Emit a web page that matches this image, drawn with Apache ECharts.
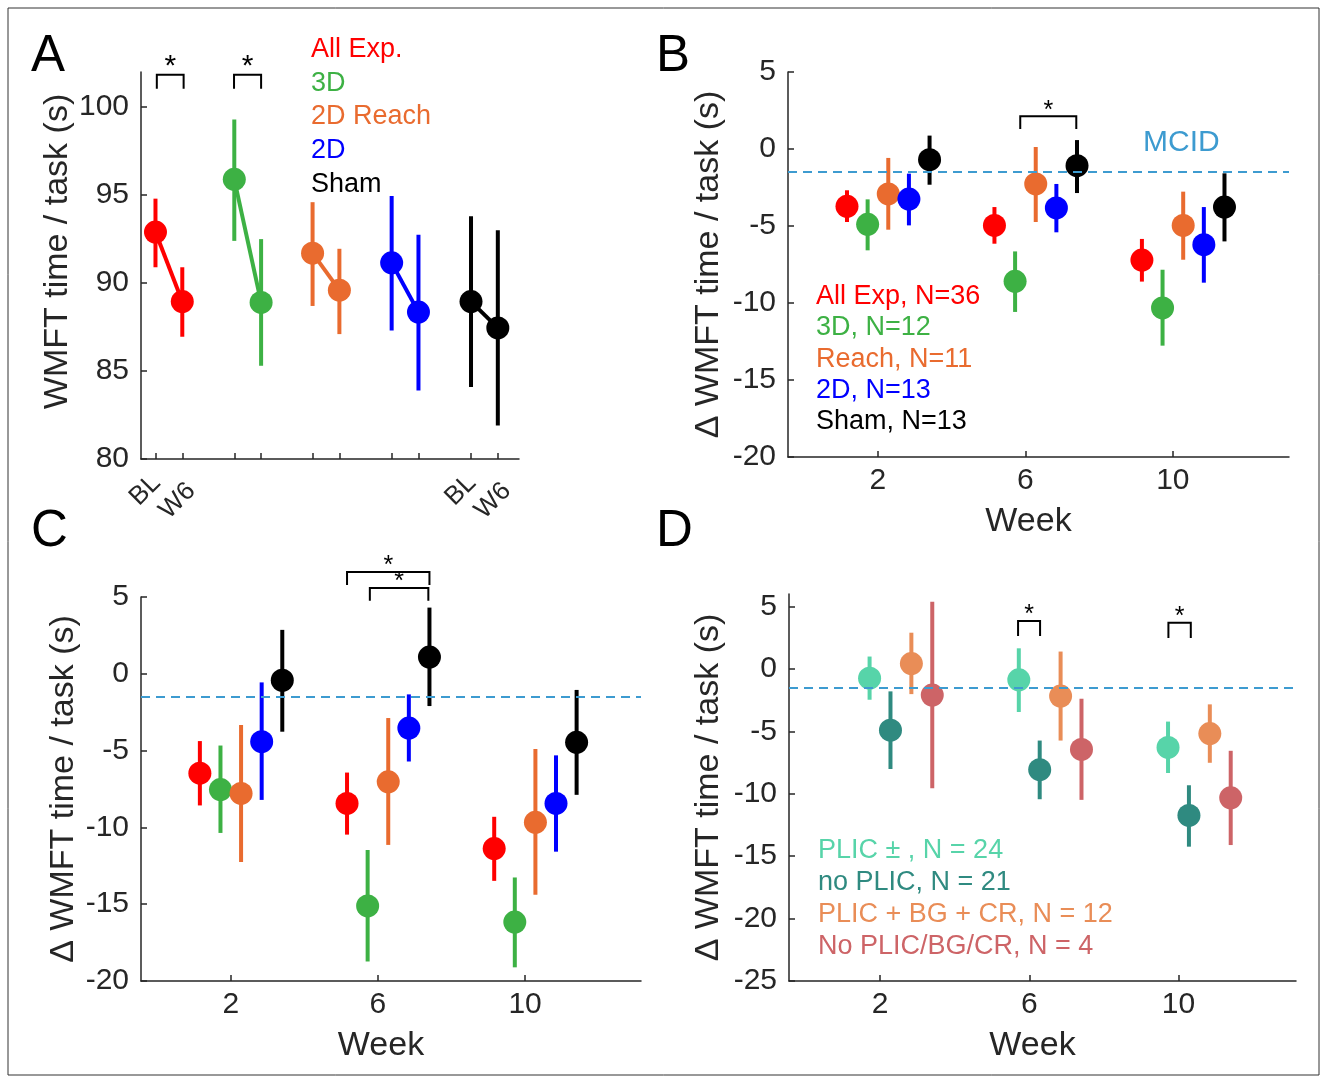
<!DOCTYPE html>
<html lang="en">
<head>
<meta charset="UTF-8" />
<title>WMFT change</title>
<style>
  * { margin: 0; padding: 0; }
  #chart { width: 1321px; height: 1079px; background: #fff; }
</style>
<script src="https://cdn.jsdelivr.net/npm/echarts@6/dist/echarts.min.js"></script>
</head>
<body>
<div id="chart"></div>
<script>
// ---- panel A : baseline (BL) vs week 6 (W6) ----
const groupsA = ['All Exp.', '3D', '2D Reach', '2D', 'Sham']
const xA = [[0, 1], [2.94, 3.94], [5.86, 6.86], [8.81, 9.81], [11.77, 12.77]]
const meanA = [[92.9, 88.95], [95.9, 88.9], [91.7, 89.6], [91.15, 88.35], [88.95, 87.45]]
const loA = [[90.9, 86.95], [92.4, 85.3], [88.7, 87.1], [87.3, 83.9], [84.1, 81.9]]
const hiA = [[94.8, 90.9], [99.3, 92.5], [94.6, 91.95], [94.95, 92.75], [93.8, 93.0]]
const tickLabelsA = ['BL', 'W6']
const labelledA = [0, 4] // groups whose ticks carry BL / W6 labels
const sigA = [[0.05, 1.05, 101.85, 101.05], [2.93, 3.94, 101.85, 101.05]]

// ---- shared weeks ----
const weeks = [2, 6, 10]
const offsetsBC = [-0.84, -0.28, 0.28, 0.84, 1.4]
const offsetsD = [-0.28, 0.28, 0.84, 1.4]
const mcid = -1.5

// ---- panel B ----
const groupsB = ['All Exp, N=36', '3D, N=12', 'Reach, N=11', '2D, N=13', 'Sham, N=13']
const meanB = [[-3.72, -4.96, -7.21], [-4.89, -8.59, -10.32], [-2.92, -2.27, -4.96], [-3.25, -3.83, -6.21], [-0.69, -1.08, -3.77]]
const loB = [[-4.74, -6.15, -8.61], [-6.58, -10.58, -12.77], [-5.24, -4.74, -7.19], [-4.96, -5.41, -8.68], [-2.32, -2.86, -6.0]]
const hiB = [[-2.68, -3.77, -5.84], [-3.27, -6.65, -7.84], [-0.58, 0.13, -2.77], [-1.6, -2.27, -3.77], [0.87, 0.58, -1.58]]
const sigB = [[5.86, 7.38, 2.12, 1.3]]

// ---- panel C ----
const meanC = [[-6.47, -8.44, -11.38], [-7.54, -15.11, -16.16], [-7.79, -7.03, -9.67], [-4.42, -3.53, -8.44], [-0.42, 1.09, -4.46]]
const loC = [[-8.57, -10.47, -13.48], [-10.36, -18.73, -19.11], [-12.25, -11.14, -14.38], [-8.21, -5.71, -11.58], [-3.77, -2.1, -7.88]]
const hiC = [[-4.38, -6.43, -9.31], [-4.67, -11.47, -13.26], [-3.33, -2.88, -4.89], [-0.56, -1.34, -5.31], [2.86, 4.31, -1.05]]
const sigC = [[5.16, 7.4, 6.63, 5.78], [5.78, 7.37, 5.58, 4.75]]

// ---- panel D ----
const groupsD = ['PLIC \u00b1 , N = 24', 'no PLIC, N = 21', 'PLIC + BG + CR, N = 12', 'No PLIC/BG/CR, N = 4']
const meanD = [[-0.74, -0.87, -6.29], [-4.91, -8.07, -11.74], [0.43, -2.18, -5.18], [-2.1, -6.45, -10.33]]
const loD = [[-2.47, -3.45, -8.34], [-8.02, -10.44, -14.24], [-2.02, -5.74, -7.52], [-9.56, -10.49, -14.11]]
const hiD = [[0.99, 1.65, -4.22], [-1.8, -5.74, -9.32], [2.9, 1.39, -2.84], [5.37, -2.39, -6.56]]
const sigD = [[5.70, 6.29, 3.83, 2.63], [9.73, 10.33, 3.7, 2.48]]

const colorsBC = ['#ff0000', '#3db144', '#e96b2f', '#0000ff', '#000000']
const colorsD = ['#57d4a9', '#2f8a80', '#e98d57', '#cd6467']
const mcidColor = '#3d9bd0'
const axisColor = '#262626'
const font = 'Liberation Sans, Arial, sans-serif'

const chart = echarts.init(document.getElementById('chart'))

const lineStyle = { color: axisColor, width: 1.5 }

function xAxisWeek(gi) {
  return {
    type: 'value', gridIndex: gi, min: -0.44, max: 13.15,
    name: 'Week', nameLocation: 'middle', nameGap: 48,
    nameTextStyle: { color: axisColor, fontSize: 34, fontFamily: font, padding: [0, 20, 0, 0] },
    axisLine: { onZero: false, lineStyle: lineStyle },
    axisTick: { inside: true, length: 6, customValues: weeks, lineStyle: lineStyle },
    axisLabel: { customValues: weeks, color: axisColor, fontSize: 30, fontFamily: font, margin: 9 },
    splitLine: { show: false }
  }
}

function yAxisDelta(gi, min, max, ticks, gap) {
  return {
    type: 'value', gridIndex: gi, min: min, max: max,
    name: '\u0394 WMFT time / task (s)', nameLocation: 'middle', nameGap: gap, nameRotate: 90,
    nameTextStyle: { color: axisColor, fontSize: 34, fontFamily: font },
    axisLine: { show: true, onZero: false, lineStyle: lineStyle },
    axisTick: { show: true, inside: true, length: 6, customValues: ticks, lineStyle: lineStyle },
    axisLabel: { customValues: ticks, color: axisColor, fontSize: 30, fontFamily: font, margin: 12 },
    splitLine: { show: false }
  }
}

function errRender(params, api) {
  const p1 = api.coord([api.value(0), api.value(1)])
  const p2 = api.coord([api.value(0), api.value(2)])
  return {
    type: 'line',
    shape: { x1: p1[0], y1: p1[1], x2: p2[0], y2: p2[1] },
    style: { stroke: api.visual('color'), lineWidth: 4 }
  }
}

function sigRender(starSize) {
  return function (params, api) {
    const a = api.coord([api.value(0), api.value(2)])
    const b = api.coord([api.value(1), api.value(2)])
    const legY = api.coord([api.value(0), api.value(3)])[1]
    return {
      type: 'group',
      children: [
        { type: 'polyline', shape: { points: [[a[0], legY], a, b, [b[0], legY]] },
          style: { stroke: '#000', lineWidth: 2, fill: null } },
        { type: 'text', x: (a[0] + b[0]) / 2, y: a[1] + 7,
          style: { text: '*', fill: '#000', fontSize: starSize, fontFamily: font,
                   textAlign: 'center', textVerticalAlign: 'bottom' } }
      ]
    }
  }
}

// rotated BL / W6 labels under the first and last pair of panel A
const labelShift = [[1, 20], [9, 28]]
function tickLabelRender(params, api) {
  const k = api.value(1)
  const p = api.coord([api.value(0), 80])
  return {
    type: 'text', x: p[0] + labelShift[k][0], y: p[1] + labelShift[k][1], rotation: Math.PI / 4,
    style: { text: tickLabelsA[k], fill: axisColor, fontSize: 26, fontFamily: font,
             textAlign: 'right', textVerticalAlign: 'middle' }
  }
}

const series = []

// panel A
groupsA.forEach((g, i) => {
  series.push({
    type: 'custom', xAxisIndex: 0, yAxisIndex: 0, renderItem: errRender, z: 2,
    itemStyle: { color: colorsBC[i] },
    data: xA[i].map((x, k) => [x, loA[i][k], hiA[i][k]])
  })
  series.push({
    type: 'line', name: g, xAxisIndex: 0, yAxisIndex: 0, z: 3,
    symbol: 'circle', symbolSize: 23,
    itemStyle: { color: colorsBC[i] }, lineStyle: { color: colorsBC[i], width: 4 },
    data: xA[i].map((x, k) => [x, meanA[i][k]])
  })
})
series.push({ type: 'custom', xAxisIndex: 0, yAxisIndex: 0, renderItem: sigRender(30), data: sigA, z: 4 })
series.push({
  type: 'custom', xAxisIndex: 0, yAxisIndex: 0, renderItem: tickLabelRender, z: 4,
  data: labelledA.flatMap(gi => xA[gi].map((x, k) => [x, k]))
})

// panels B, C, D
const panels = [
  { gi: 1, names: groupsB, mean: meanB, lo: loB, hi: hiB, colors: colorsBC, offs: offsetsBC, sig: sigB },
  { gi: 2, names: groupsB, mean: meanC, lo: loC, hi: hiC, colors: colorsBC, offs: offsetsBC, sig: sigC },
  { gi: 3, names: groupsD, mean: meanD, lo: loD, hi: hiD, colors: colorsD, offs: offsetsD, sig: sigD }
]
panels.forEach(p => {
  p.names.forEach((g, i) => {
    series.push({
      type: 'custom', xAxisIndex: p.gi, yAxisIndex: p.gi, renderItem: errRender, z: 2,
      itemStyle: { color: p.colors[i] },
      data: weeks.map((w, k) => [w + p.offs[i], p.lo[i][k], p.hi[i][k]])
    })
    const s = {
      type: 'scatter', name: g, xAxisIndex: p.gi, yAxisIndex: p.gi, z: 3,
      symbol: 'circle', symbolSize: 23, itemStyle: { color: p.colors[i], opacity: 1 },
      data: weeks.map((w, k) => [w + p.offs[i], p.mean[i][k]])
    }
    if (i === 0) {
      s.markLine = {
        silent: true, symbol: 'none', label: { show: false }, animation: false,
        lineStyle: { color: mcidColor, type: [9, 6], width: 2 },
        data: [{ yAxis: mcid }]
      }
    }
    series.push(s)
  })
  series.push({ type: 'custom', xAxisIndex: p.gi, yAxisIndex: p.gi, renderItem: sigRender(25), data: p.sig, z: 4 })
})

function legendText(names, colors, left, top, step) {
  return names.map((n, i) => ({
    type: 'text', left: left, top: top + i * step,
    style: { text: n, fill: colors[i], fontSize: 27, fontFamily: font }
  }))
}

const panelLetter = (t, x, y) => ({ type: 'text', left: x, top: y, style: { text: t, fill: '#000', fontSize: 51, fontFamily: font } })

const option = {
  animation: false,
  backgroundColor: '#fff',
  grid: [
    { left: 141, top: 72, width: 378, height: 387 },
    { left: 788, top: 72, width: 501, height: 385 },
    { left: 141, top: 597, width: 500, height: 384 },
    { left: 789, top: 594, width: 507, height: 387 }
  ],
  xAxis: [
    {
      type: 'value', gridIndex: 0, min: -0.54, max: 13.56,
      axisLine: { onZero: false, lineStyle: lineStyle },
      axisTick: { inside: true, length: 6, customValues: xA.flat(), lineStyle: lineStyle },
      axisLabel: { show: false },
      splitLine: { show: false }
    },
    xAxisWeek(1), xAxisWeek(2), xAxisWeek(3)
  ],
  yAxis: [
    {
      type: 'value', gridIndex: 0, min: 80, max: 102,
      name: 'WMFT time / task (s)', nameLocation: 'middle', nameGap: 66, nameRotate: 90,
      nameTextStyle: { color: axisColor, fontSize: 34, fontFamily: font, padding: [0, 0, 0, 28] },
      axisLine: { show: true, onZero: false, lineStyle: lineStyle },
      axisTick: { show: true, inside: true, length: 6, customValues: [80, 85, 90, 95, 100], lineStyle: lineStyle },
      axisLabel: { customValues: [80, 85, 90, 95, 100], color: axisColor, fontSize: 30, fontFamily: font, margin: 12 },
      splitLine: { show: false }
    },
    yAxisDelta(1, -20, 5, [-20, -15, -10, -5, 0, 5], 62),
    yAxisDelta(2, -20, 5, [-20, -15, -10, -5, 0, 5], 60),
    yAxisDelta(3, -25, 6, [-25, -20, -15, -10, -5, 0, 5], 63)
  ],
  series: series,
  graphic: [
    { type: 'rect', shape: { x: 8, y: 8, width: 1311, height: 1067 }, style: { fill: null, stroke: '#333', lineWidth: 1 } },
    panelLetter('A', 31, 31), panelLetter('B', 656, 31), panelLetter('C', 31, 506), panelLetter('D', 656, 506),
    ...legendText(groupsA, colorsBC, 311, 36, 33.7),
    ...legendText(groupsB, colorsBC, 816, 283, 31.3),
    ...legendText(groupsD, colorsD, 818, 837, 32),
    { type: 'text', left: 1143, top: 128, style: { text: 'MCID', fill: mcidColor, fontSize: 30, fontFamily: font } }
  ]
}

chart.setOption(option)
</script>
</body>
</html>
